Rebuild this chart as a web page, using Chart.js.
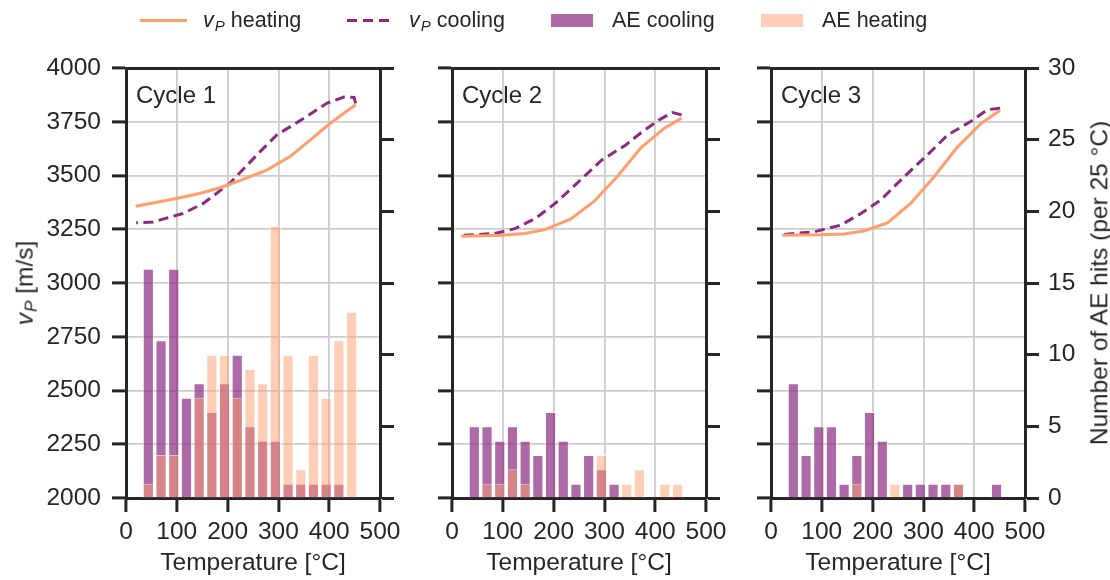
<!DOCTYPE html>
<html>
<head>
<meta charset="utf-8">
<script src="https://cdn.jsdelivr.net/npm/chart.js@4.4.0/dist/chart.umd.min.js"></script>
<style>
  html, body { margin: 0; padding: 0; background: #fff; }
  #wrap { position: relative; width: 1110px; height: 580px; font-family: 'Liberation Sans', Arial, sans-serif; color: #262626; }
  #wrap canvas { position: absolute; left: 0; top: 0; }
  .txt { position: absolute; top: 9px; font-size: 21.5px; line-height: 22px; white-space: nowrap; }
  .hd { position: absolute; }
  .ytitle { position: absolute; font-size: 24.5px; line-height: 29.4px; white-space: nowrap; transform: translate(-50%, -50%) rotate(-90deg); }
  .vp i { font-style: italic; }
  .vp sub { font-size: 0.7em; font-style: italic; vertical-align: -0.25em; margin-left: 1px; }
</style>
</head>
<body>
<div id="wrap">
  <canvas id="c1" width="1110" height="580"></canvas>
  <canvas id="c2" width="1110" height="580"></canvas>
  <canvas id="c3" width="1110" height="580"></canvas>

  <!-- legend -->
  <div class="hd" style="left:140px;top:18.5px;width:47px;height:3px;background:#fe9f6d"></div>
  <div class="txt vp" style="left:203px"><i>v</i><sub>P</sub> heating</div>
  <div class="hd" style="left:347px;top:18.5px;width:42px;height:3px;background:repeating-linear-gradient(90deg,#8c2981 0 10.5px,transparent 10.5px 16px)"></div>
  <div class="txt vp" style="left:409px"><i>v</i><sub>P</sub> cooling</div>
  <div class="hd" style="left:551px;top:14px;width:42px;height:13px;background:rgba(140,41,129,0.7)"></div>
  <div class="txt" style="left:612px">AE cooling</div>
  <div class="hd" style="left:761px;top:14px;width:42px;height:13px;background:rgba(254,159,109,0.5)"></div>
  <div class="txt" style="left:822px">AE heating</div>

  <div class="ytitle vp" style="left:28px;top:283px"><i>v</i><sub>P</sub> [m/s]</div>
  <div class="ytitle" style="left:1098.5px;top:283px">Number of AE hits (per 25 °C)</div>
</div>
<script>
// AE histogram bins (centre temperature, °C)
const binCenters = [44, 69, 94, 119, 144, 169, 194, 219, 244, 269, 294, 319, 344, 369, 394, 419, 444];

const aeCool1 = [16, 11, 16, 7, 8, 6, 8, 10, 5, 4, 4, 1, 1, 1, 1, 1, 0];
const aeHeat1 = [1, 3, 3, 0, 7, 10, 10, 7, 9, 8, 19, 10, 2, 10, 7, 11, 13];
const aeCool2 = [5, 5, 4, 5, 4, 3, 6, 4, 1, 3, 2, 1, 0, 0, 0, 0, 0];
const aeHeat2 = [0, 1, 1, 2, 1, 0, 0, 0, 0, 0, 3, 0, 1, 2, 0, 1, 1];
const aeCool3 = [8, 3, 5, 5, 1, 3, 6, 4, 0, 1, 1, 1, 1, 1, 0, 0, 1];
const aeHeat3 = [0, 0, 0, 0, 0, 1, 0, 0, 1, 0, 0, 0, 0, 1, 0, 0, 0];

// P-wave velocity curves
const heatT1 = [19, 99, 145, 185, 224, 277, 323, 363, 402, 452];
const heatV1 = [3357, 3393, 3416, 3443, 3476, 3525, 3588, 3666, 3743, 3829];
const coolT1 = [452, 449, 429, 396, 356, 297, 264, 204, 152, 112, 53, 20];
const coolV1 = [3835, 3863, 3865, 3837, 3775, 3689, 3611, 3463, 3370, 3323, 3284, 3280];

const heatT2 = [18, 98, 144, 183, 233, 279, 325, 371, 418, 452];
const heatV2 = [3217, 3222, 3230, 3248, 3297, 3378, 3494, 3627, 3720, 3767];
const coolT2 = [452, 434, 408, 375, 342, 295, 256, 203, 164, 124, 84, 22];
const coolV2 = [3782, 3793, 3759, 3704, 3642, 3572, 3486, 3370, 3300, 3253, 3230, 3222];

const heatT3 = [22, 98, 144, 183, 229, 275, 321, 367, 413, 451];
const heatV3 = [3222, 3224, 3228, 3242, 3280, 3370, 3494, 3632, 3741, 3803];
const coolT3 = [451, 426, 393, 348, 308, 262, 216, 177, 137, 85, 22];
const coolV3 = [3813, 3806, 3751, 3689, 3596, 3494, 3386, 3323, 3269, 3238, 3225];

const cycleNames = ['Cycle 1', 'Cycle 2', 'Cycle 3'];

const ink = '#262626';
const gridColor = '#cccccc';
const heatColor = '#fe9f6d';
const coolColor = '#8c2981';

Chart.defaults.font.family = "'Liberation Sans', Arial, sans-serif";
Chart.defaults.font.size = 24.5;
Chart.defaults.color = ink;

const panelLeft = [126, 452, 771];
const panelWidth = 254;
// room kept for the left / right axes of each panel (labels only on the outer ones)
const leftAxisW = [120, 40, 40];
const rightAxisW = [40, 40, 75];

const cycleLabel = {
  id: 'cycleLabel',
  afterDatasetsDraw(chart, args, opts) {
    const { ctx, chartArea } = chart;
    ctx.save();
    ctx.font = "24px 'Liberation Sans', Arial, sans-serif";
    ctx.fillStyle = ink;
    ctx.textBaseline = 'alphabetic';
    ctx.fillText(opts.text, chartArea.left + 10, chartArea.top + 34.5);
    ctx.restore();
  }
};

function pts(xs, ys) {
  return xs.map((x, i) => ({ x: x, y: ys[i] }));
}

function makePanel(i, heatT, heatV, coolT, coolV, aeCool, aeHeat) {
  const left = panelLeft[i];
  const right = left + panelWidth;
  const tickGrid = { color: gridColor, lineWidth: 1.8, tickColor: ink, tickWidth: 3, tickLength: 14 };
  const border = { color: ink, width: 3 };
  const barEdge = 'rgba(255,255,255,0.6)';

  new Chart(document.getElementById('c' + (i + 1)), {
    type: 'line',
    data: {
      datasets: [
        { type: 'line', label: 'vP heating', data: pts(heatT, heatV), yAxisID: 'y',
          borderColor: heatColor, borderWidth: 3, pointRadius: 0, tension: 0, order: 0 },
        { type: 'line', label: 'vP cooling', data: pts(coolT, coolV), yAxisID: 'y',
          borderColor: coolColor, borderWidth: 3, borderDash: [10, 5.5], pointRadius: 0, tension: 0, order: 0 },
        { type: 'bar', label: 'AE heating', data: pts(binCenters, aeHeat), yAxisID: 'y1',
          backgroundColor: 'rgba(254,159,109,0.5)', borderColor: barEdge, borderWidth: 1, grouped: false,
          barPercentage: 0.88, categoryPercentage: 1, order: 1 },
        { type: 'bar', label: 'AE cooling', data: pts(binCenters, aeCool), yAxisID: 'y1',
          backgroundColor: 'rgba(140,41,129,0.7)', borderColor: barEdge, borderWidth: 1, grouped: false,
          barPercentage: 0.88, categoryPercentage: 1, order: 2 }
      ]
    },
    options: {
      responsive: false,
      animation: false,
      events: [],
      layout: { padding: { left: left - leftAxisW[i], right: 1110 - right - rightAxisW[i], top: 48, bottom: 2 } },
      plugins: {
        legend: { display: false },
        tooltip: { enabled: false },
        cycleLabel: { text: cycleNames[i] }
      },
      scales: {
        x: {
          type: 'linear', position: 'bottom', min: 0, max: 500, offset: false,
          ticks: { stepSize: 100, padding: 6, autoSkip: false, maxRotation: 0, color: ink, callback: v => String(v) },
          grid: Object.assign({ offset: false }, tickGrid),
          border: border,
          title: { display: true, text: 'Temperature [°C]', color: ink, padding: { top: 0, bottom: 0 } },
          afterFit: s => { s.height = 80; }
        },
        xTop: {
          type: 'linear', position: 'top', min: 0, max: 500, offset: false,
          ticks: { display: false },
          grid: { drawOnChartArea: false, drawTicks: false },
          border: border,
          afterFit: s => { s.height = 20; }
        },
        y: {
          type: 'linear', position: 'left', min: 2000, max: 4000,
          ticks: { stepSize: 250, padding: 11, autoSkip: false, color: ink,
                   callback: v => (i === 0 ? String(v) : '') },
          grid: tickGrid,
          border: border,
          afterFit: s => { s.width = leftAxisW[i]; }
        },
        y1: {
          type: 'linear', position: 'right', min: 0, max: 30,
          ticks: { stepSize: 5, padding: 9, autoSkip: false, color: ink,
                   callback: v => (i === 2 ? String(v) : '') },
          grid: { drawOnChartArea: false, tickColor: ink, tickWidth: 3, tickLength: 14 },
          border: border,
          afterFit: s => { s.width = rightAxisW[i]; }
        }
      }
    },
    plugins: [cycleLabel]
  });
}

makePanel(0, heatT1, heatV1, coolT1, coolV1, aeCool1, aeHeat1);
makePanel(1, heatT2, heatV2, coolT2, coolV2, aeCool2, aeHeat2);
makePanel(2, heatT3, heatV3, coolT3, coolV3, aeCool3, aeHeat3);
</script>
</body>
</html>
